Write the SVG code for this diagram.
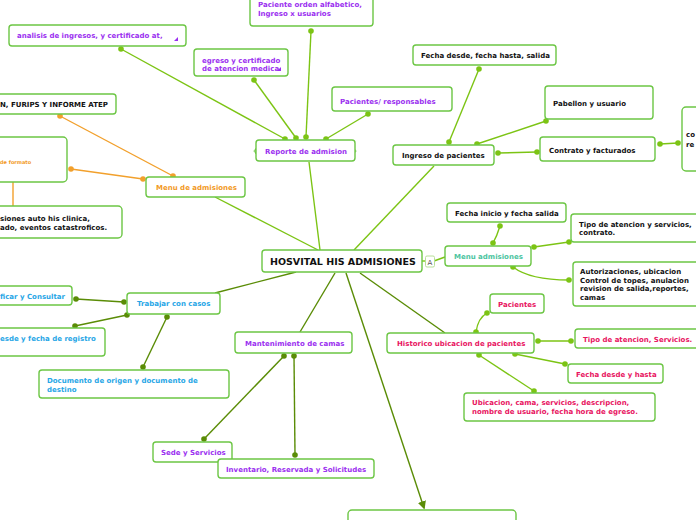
<svg xmlns="http://www.w3.org/2000/svg" width="696" height="520" viewBox="0 0 696 520">
<style>
.box{fill:#fff;stroke:#6cc644;stroke-width:1.4}
.t{font-family:"DejaVu Sans",Verdana,sans-serif;font-weight:bold;font-size:7px}
.k{fill:#111}.p{fill:#9b2ff0}.o{fill:#f29a1f}.g{fill:#4cc4a0}.r{fill:#e8145f}.b{fill:#27a6e6}
.lg{stroke:#7cc414;stroke-width:1.4;fill:none}
.dg{stroke:#5a8c06;stroke-width:1.4;fill:none}
.or{stroke:#f2a02c;stroke-width:1.4;fill:none}
.dlg{fill:#7cc414}.ddg{fill:#5a8c06}.dor{fill:#f2a02c}
.br{stroke:#6cc644;stroke-width:1.2;fill:#fff}
</style>
<defs>
<marker id="arr" viewBox="0 0 10 10" refX="8" refY="5" markerWidth="6" markerHeight="6" orient="auto">
<path d="M0,0 L10,5 L0,10 z" fill="#5a8c06"/>
</marker>
</defs>

<g id="connectors">
<line class="lg" x1="320" y1="250" x2="309" y2="162"/>
<line class="lg" x1="354" y1="250" x2="434" y2="166"/>
<line class="lg" x1="318" y1="250" x2="215" y2="197"/>
<line class="dg" x1="296" y1="272" x2="215" y2="293"/>
<line class="dg" x1="335" y1="273" x2="300" y2="332"/>
<line class="dg" x1="360" y1="273" x2="445" y2="333"/>
<line class="dg" x1="346" y1="273" x2="424" y2="508" marker-end="url(#arr)" stroke="#6a9c10"/>
<line class="lg" x1="422" y1="261" x2="426" y2="261"/>
<line class="lg" x1="434" y1="261" x2="445" y2="257"/>
<line class="lg" x1="121" y1="49" x2="285" y2="139"/>
<line class="lg" x1="254" y1="80" x2="296" y2="138"/>
<line class="lg" x1="311" y1="31" x2="306" y2="137"/>
<line class="lg" x1="368" y1="114" x2="326" y2="139"/>
<circle class="dlg" cx="121" cy="49" r="2.8"/><circle class="dlg" cx="285" cy="139" r="2.8"/>
<circle class="dlg" cx="254" cy="80" r="2.8"/><circle class="dlg" cx="296" cy="138" r="2.8"/>
<circle class="dlg" cx="311" cy="31" r="2.8"/><circle class="dlg" cx="306" cy="137" r="2.8"/>
<circle class="dlg" cx="368" cy="114" r="2.8"/><circle class="dlg" cx="326" cy="139" r="2.8"/>
<line class="lg" x1="479" y1="69" x2="449" y2="142"/>
<line class="lg" x1="546" y1="121" x2="477" y2="144"/>
<line class="lg" x1="498" y1="153" x2="537" y2="152"/>
<line class="lg" x1="660" y1="144" x2="678" y2="143"/>
<circle class="dlg" cx="479" cy="69" r="2.8"/><circle class="dlg" cx="449" cy="142" r="2.8"/>
<circle class="dlg" cx="546" cy="121" r="2.8"/><circle class="dlg" cx="477" cy="144" r="2.8"/>
<circle class="dlg" cx="498" cy="153" r="2.8"/><circle class="dlg" cx="537" cy="152" r="2.8"/>
<circle class="dlg" cx="660" cy="144" r="2.8"/><circle class="dlg" cx="678" cy="143" r="2.8"/>
<line class="or" x1="60" y1="116" x2="173" y2="176"/>
<line class="or" x1="71" y1="169" x2="143" y2="179"/>
<line class="or" x1="13" y1="182" x2="13" y2="206"/>
<circle class="dor" cx="60" cy="116" r="2.8"/><circle class="dor" cx="173" cy="176" r="2.8"/>
<circle class="dor" cx="71" cy="169" r="2.8"/><circle class="dor" cx="143" cy="179" r="2.8"/>
<path class="lg" d="M500,226 Q497,236 493,243"/>
<line class="lg" x1="534" y1="247" x2="569" y2="242"/>
<path class="lg" d="M513,267 Q530,280 569,280"/>
<circle class="dlg" cx="500" cy="226" r="2.8"/><circle class="dlg" cx="493" cy="243" r="2.8"/>
<circle class="dlg" cx="534" cy="247" r="2.8"/><circle class="dlg" cx="569" cy="242" r="2.8"/>
<circle class="dlg" cx="513" cy="267" r="2.8"/><circle class="dlg" cx="569" cy="280" r="2.8"/>
<path class="lg" d="M476,332 Q478,318 487,313" stroke="#6aa010"/>
<line class="lg" x1="538" y1="341" x2="571" y2="341" stroke="#6aa010"/>
<line class="lg" x1="515" y1="354" x2="565" y2="364" stroke="#6aa010"/>
<line class="lg" x1="479" y1="355" x2="534" y2="391" stroke="#6aa010"/>
<circle class="dlg" cx="476" cy="332" r="2.8"/><circle class="dlg" cx="487" cy="313" r="2.8"/>
<circle class="dlg" cx="538" cy="341" r="2.8"/><circle class="dlg" cx="571" cy="341" r="2.8"/>
<circle class="dlg" cx="515" cy="354" r="2.8"/><circle class="dlg" cx="565" cy="364" r="2.8"/>
<circle class="dlg" cx="479" cy="355" r="2.8"/><circle class="dlg" cx="534" cy="391" r="2.8"/>
<line class="dg" x1="76" y1="299" x2="124" y2="302"/>
<line class="dg" x1="75" y1="326" x2="127" y2="315"/>
<line class="dg" x1="143" y1="367" x2="167" y2="317"/>
<circle class="ddg" cx="76" cy="299" r="2.8"/><circle class="ddg" cx="124" cy="302" r="2.8"/>
<circle class="ddg" cx="75" cy="326" r="2.8"/><circle class="ddg" cx="127" cy="315" r="2.8"/>
<circle class="ddg" cx="143" cy="367" r="2.8"/><circle class="ddg" cx="167" cy="317" r="2.8"/>
<line class="dg" x1="204" y1="439" x2="284" y2="356"/>
<line class="dg" x1="295" y1="455" x2="294" y2="356"/>
<circle class="ddg" cx="204" cy="439" r="2.8"/><circle class="ddg" cx="284" cy="356" r="2.8"/>
<circle class="ddg" cx="295" cy="455" r="2.8"/><circle class="ddg" cx="294" cy="356" r="2.8"/>
</g>

<g id="n-central">
<rect class="box" x="262" y="250" width="160" height="22" rx="3"/>
<text class="t k" x="270" y="265" style="font-size:9.5px">HOSVITAL HIS ADMISIONES</text>
</g>
<g id="n-icon">
<rect x="425.5" y="256" width="9" height="11" rx="1.5" fill="#fff" stroke="#b8e09a" stroke-width="1"/>
<text class="t" x="427.5" y="265" style="font-size:7px;font-weight:normal" fill="#555">A</text>
</g>

<g id="n-reporte">
<path class="br" d="M258,148 Q255,148 255,151 Q253,151 255,151 Q255,154 258,154 M352,148 Q355,148 355,151 Q357,151 355,151 Q355,154 352,154"/>
<rect class="box" x="256" y="140" width="99" height="21" rx="3"/>
<text class="t p" x="265" y="154">Reporte de admision</text>
</g>
<g id="n-analisis">
<rect class="box" x="9" y="25" width="177" height="21" rx="3"/>
<text class="t p" x="17" y="38">analisis de ingresos, y certificado at,</text>
<path d="M178,37 L178,41 L174,41 z" fill="#9b2ff0"/>
</g>
<g id="n-orden">
<rect class="box" x="250" y="-6" width="123" height="32" rx="3"/>
<text class="t p" x="258" y="7">Paciente orden alfabetico,</text>
<text class="t p" x="258" y="16">Ingreso x usuarios</text>
</g>
<g id="n-egreso">
<rect class="box" x="194" y="49" width="94" height="27" rx="3"/>
<text class="t p" x="202" y="63">egreso y certificado</text>
<text class="t p" x="202" y="71">de atencion medica</text>
<path d="M281,67 L281,71 L277,71 z" fill="#9b2ff0"/>
</g>
<g id="n-resp">
<rect class="box" x="332" y="87" width="120" height="24" rx="3"/>
<text class="t p" x="340" y="104">Pacientes/ responsables</text>
</g>

<g id="n-ingreso">
<rect class="box" x="393" y="145" width="101" height="20" rx="3"/>
<text class="t k" x="402" y="158">Ingreso de pacientes</text>
</g>
<g id="n-fecha-salida">
<rect class="box" x="413" y="45" width="143" height="20" rx="3"/>
<text class="t k" x="421" y="58">Fecha desde, fecha hasta, salida</text>
</g>
<g id="n-pabellon">
<rect class="box" x="545" y="86" width="108" height="33" rx="3"/>
<text class="t k" x="553" y="106">Pabellon y usuario</text>
</g>
<g id="n-contrato">
<rect class="box" x="540" y="137" width="115" height="24" rx="3"/>
<text class="t k" x="549" y="153">Contrato y facturados</text>
</g>
<g id="n-right">
<rect class="box" x="682" y="107" width="30" height="64" rx="4"/>
<text class="t k" x="686" y="137">co</text>
<text class="t k" x="686" y="147">re</text>
</g>

<g id="n-menu-adm">
<rect class="box" x="146" y="177" width="99" height="20" rx="3"/>
<text class="t o" x="156" y="190">Menu de admisiones</text>
</g>
<g id="n-atep">
<rect class="box" x="-20" y="94" width="136" height="20" rx="3"/>
<text class="t k" x="0" y="107">N, FURIPS Y INFORME ATEP</text>
</g>
<g id="n-formato">
<rect class="box" x="-30" y="137" width="97" height="45" rx="4"/>
<text class="t o" x="0" y="164" style="font-size:5px">de formato</text>
</g>
<g id="n-siones">
<rect class="box" x="-40" y="206" width="162" height="32" rx="4"/>
<text class="t k" x="0" y="221">siones auto his clinica,</text>
<text class="t k" x="0" y="230">ado, eventos catastroficos.</text>
</g>

<g id="n-menu-adm2">
<rect class="box" x="445" y="246" width="86" height="20" rx="3"/>
<text class="t g" x="454" y="259">Menu admisiones</text>
</g>
<g id="n-fecha-inicio">
<rect class="box" x="447" y="203" width="119" height="19" rx="3"/>
<text class="t k" x="455" y="216">Fecha inicio y fecha salida</text>
</g>
<g id="n-tipo">
<rect class="box" x="571" y="214" width="140" height="28" rx="3"/>
<text class="t k" x="579" y="227">Tipo de atencion y servicios,</text>
<text class="t k" x="579" y="235">contrato.</text>
</g>
<g id="n-autoriz">
<rect class="box" x="573" y="262" width="140" height="44" rx="3"/>
<text class="t k" x="580" y="274">Autorizaciones, ubicacion</text>
<text class="t k" x="580" y="283">Control de topes, anulacion</text>
<text class="t k" x="580" y="291">revision de salida,reportes,</text>
<text class="t k" x="580" y="300">camas</text>
</g>

<g id="n-historico">
<rect class="box" x="387" y="333" width="147" height="20" rx="3"/>
<text class="t r" x="397" y="346">Historico ubicacion de pacientes</text>
</g>
<g id="n-pacientes">
<rect class="box" x="490" y="294" width="54" height="19" rx="3"/>
<text class="t r" x="498" y="307">Pacientes</text>
</g>
<g id="n-tipo-serv">
<rect class="box" x="575" y="329" width="125" height="19" rx="3"/>
<text class="t r" x="583" y="342">Tipo de atencion, Servicios.</text>
</g>
<g id="n-fecha-hasta">
<rect class="box" x="568" y="364" width="95" height="19" rx="3"/>
<text class="t r" x="576" y="377">Fecha desde y hasta</text>
</g>
<g id="n-ubicacion">
<rect class="box" x="464" y="393" width="191" height="28" rx="3"/>
<text class="t r" x="472" y="405">Ubicacion, cama, servicios, descripcion,</text>
<text class="t r" x="472" y="414">nombre de usuario, fecha hora de egreso.</text>
</g>

<g id="n-trabajar">
<rect class="box" x="127" y="293" width="93" height="21" rx="3"/>
<text class="t b" x="137" y="306">Trabajar con casos</text>
</g>
<g id="n-verificar">
<rect class="box" x="-20" y="286" width="92" height="19" rx="3"/>
<text class="t b" x="0" y="299">ficar y Consultar</text>
</g>
<g id="n-registro">
<rect class="box" x="-30" y="328" width="135" height="28" rx="3"/>
<text class="t b" x="0" y="341">esde y fecha de registro</text>
</g>
<g id="n-documento">
<rect class="box" x="39" y="370" width="190" height="28" rx="3"/>
<text class="t b" x="47" y="383">Documento de origen y documento de</text>
<text class="t b" x="47" y="392">destino</text>
</g>

<g id="n-mant">
<rect class="box" x="235" y="332" width="117" height="21" rx="3"/>
<text class="t p" x="245" y="346">Mantenimiento de camas</text>
</g>
<g id="n-sede">
<rect class="box" x="153" y="442" width="79" height="20" rx="3"/>
<text class="t p" x="161" y="455">Sede y Servicios</text>
</g>
<g id="n-inventario">
<rect class="box" x="218" y="459" width="156" height="19" rx="3"/>
<text class="t p" x="226" y="472">Inventario, Reservada y Solicitudes</text>
</g>
<g id="n-bottom">
<rect class="box" x="348" y="510" width="168" height="24" rx="4"/>
</g>
</svg>
